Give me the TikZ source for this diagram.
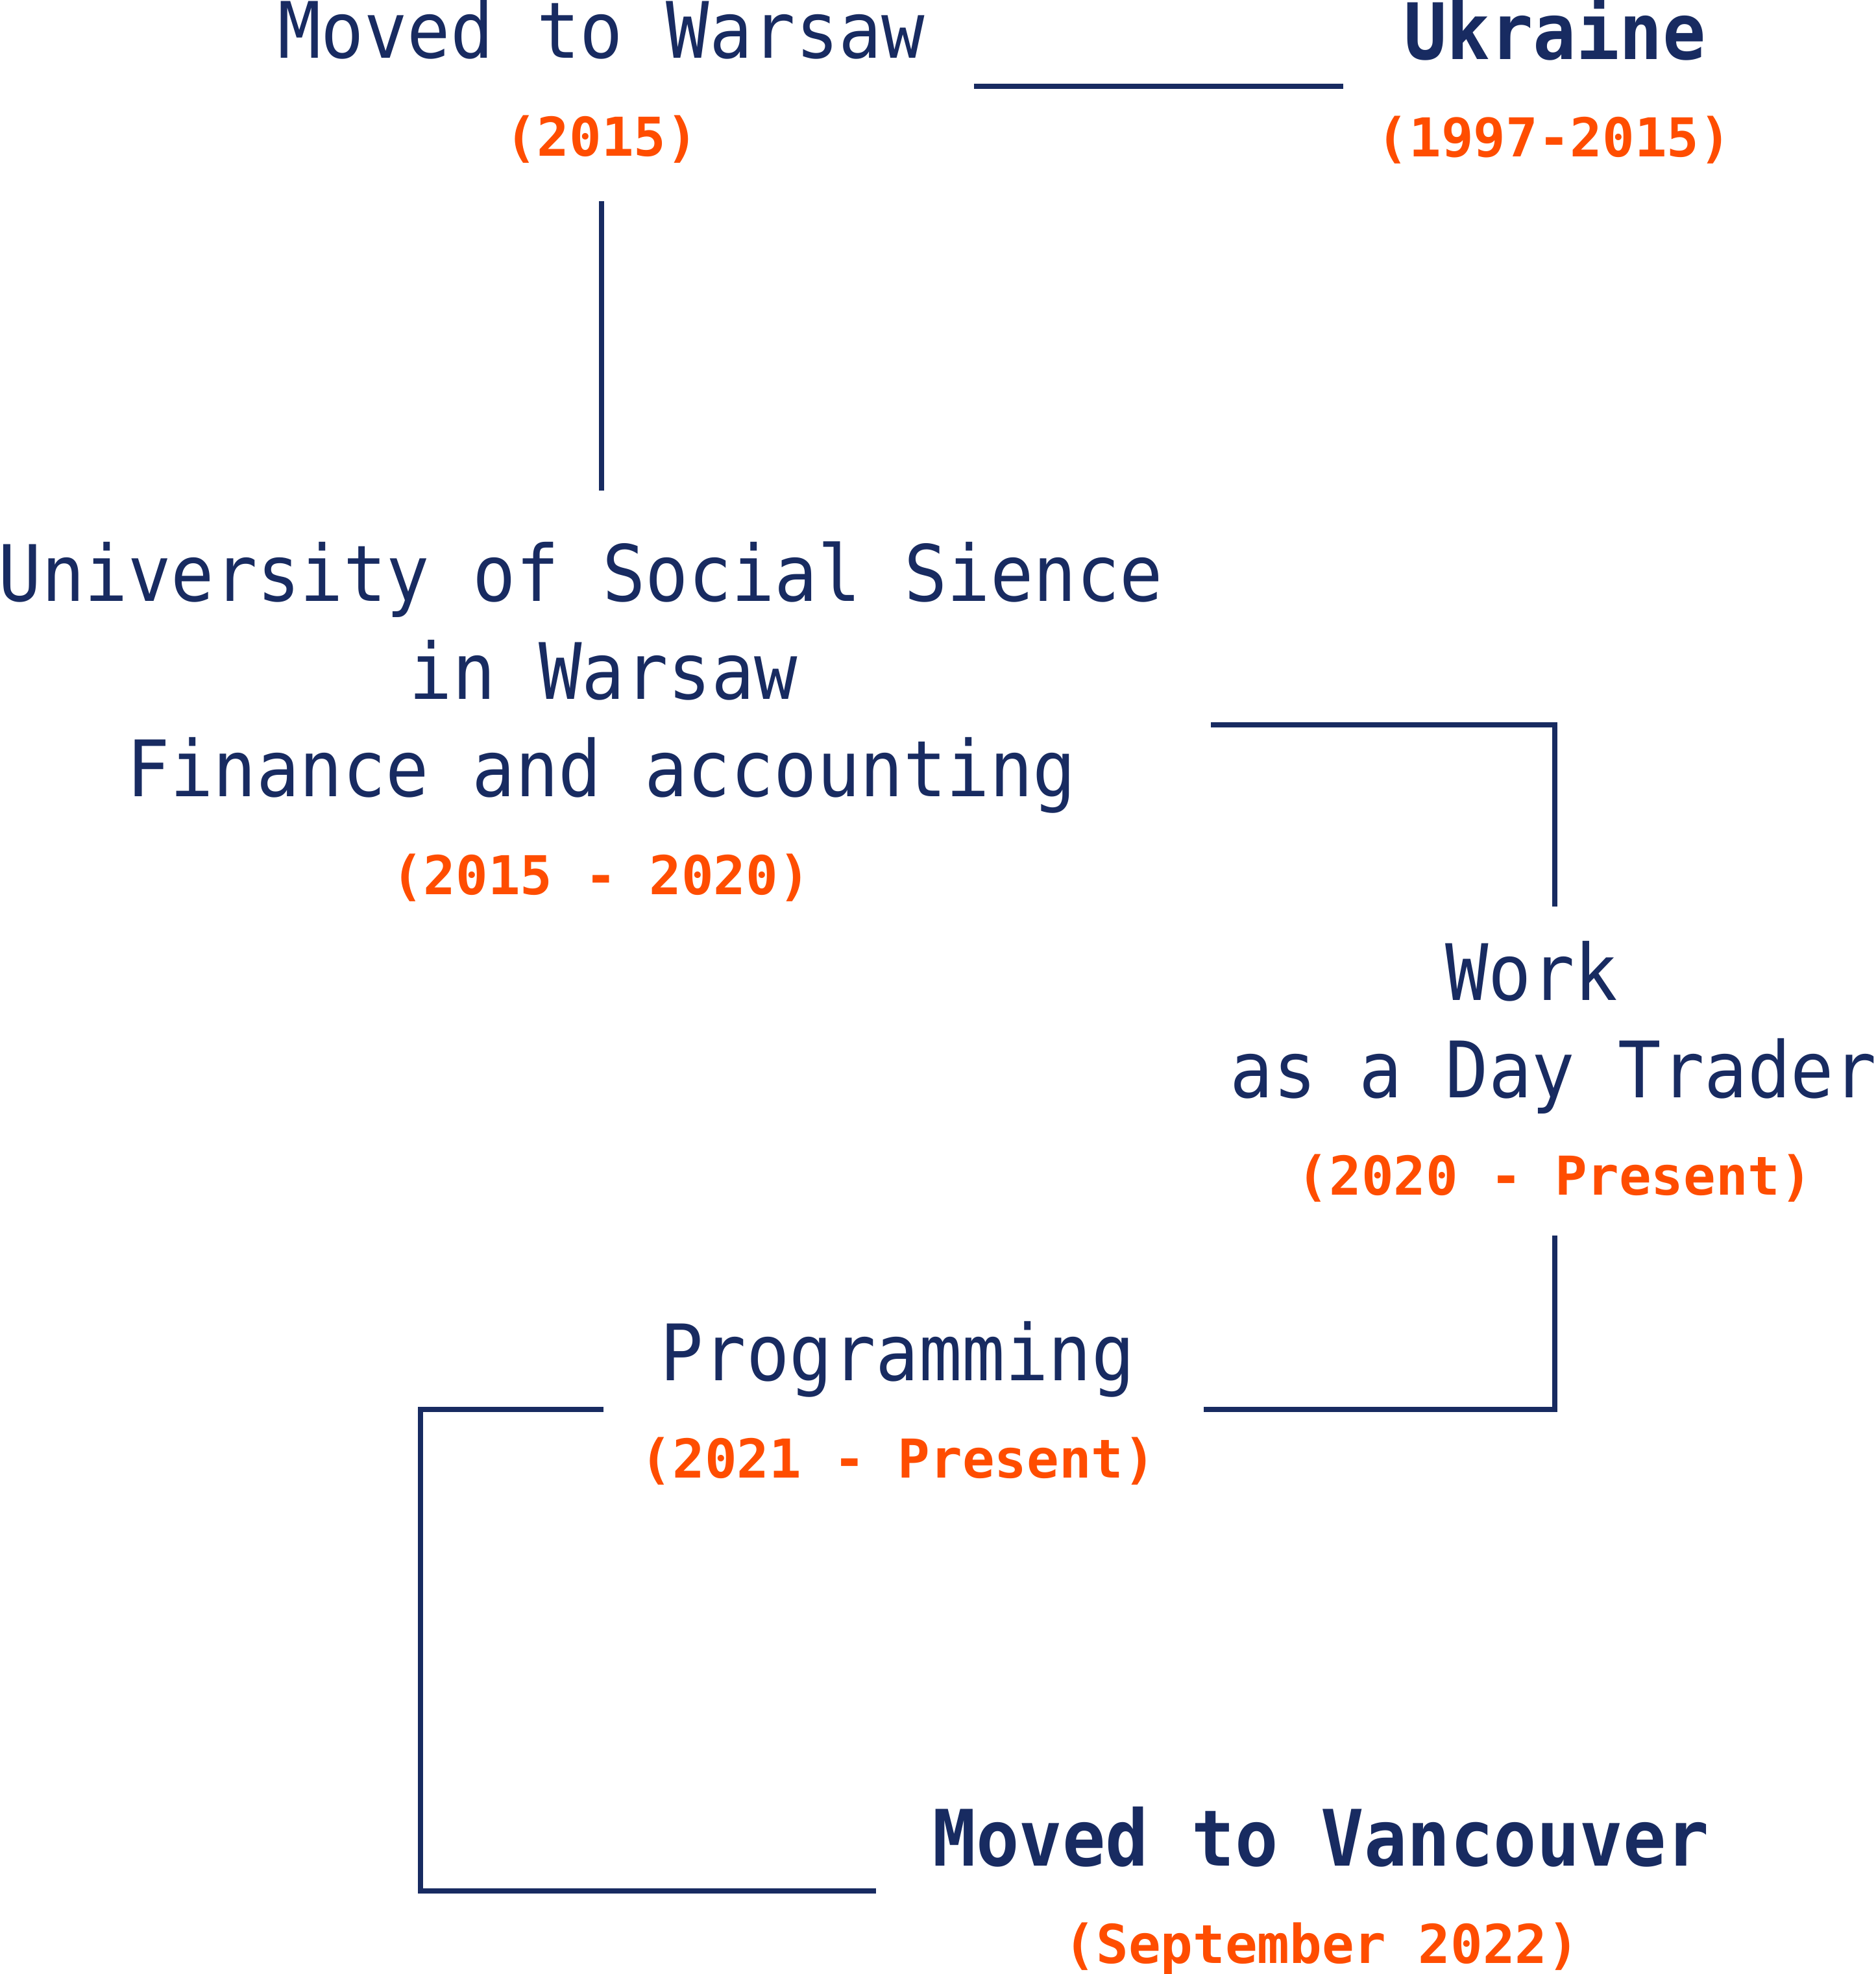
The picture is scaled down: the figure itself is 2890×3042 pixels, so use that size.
\documentclass[tikz,border=0pt]{standalone}
\usepackage{fontspec}
\newfontfamily\monoreg[FakeStretch=0.92]{DejaVu Sans Mono}
\newfontfamily\monodate{DejaVu Sans Mono}
\definecolor{navyc}{RGB}{24,43,97}
\definecolor{accentc}{RGB}{255,77,0}
\begin{document}
\begin{tikzpicture}[x=0.1pt,y=-0.1pt,
  txt/.style={font=\monoreg\fontsize{12}{14}\selectfont, text=navyc, inner sep=0pt, anchor=base},
  txtb/.style={font=\monoreg\bfseries\fontsize{12}{14}\selectfont, text=navyc, inner sep=0pt, anchor=base},
  yr/.style={font=\monodate\bfseries\fontsize{8.25}{10}\selectfont, text=accentc, inner sep=0pt, anchor=base},
  conn/.style={draw=navyc, line width=0.8pt, line cap=butt, line join=miter}]
\useasboundingbox (0,0) rectangle (2890,3042);
\fill[white] (0,0) rectangle (2890,3042);
% texts
\node[txt] (war1) at (927,90) {Moved to Warsaw};
\node[yr] (war2) at (927,241) {(2015)};
\node[txtb] (ukr1) at (2396,92) {Ukraine};
\node[yr] (ukr2) at (2395,242) {(1997-2015)};
\node[txt] (uni1) at (895,927) {University of Social Sience};
\node[txt] (uni2) at (930,1078) {in Warsaw};
\node[txt] (uni3) at (927,1227) {Finance and accounting};
\node[yr] (uni4) at (926,1378) {(2015 - 2020)};
\node[txt] (wrk1) at (2360,1541) {Work};
\node[txt] (wrk2) at (2394,1691) {as a Day Trader};
\node[yr] (wrk3) at (2396,1841) {(2020 - Present)};
\node[txt] (prg1) at (1383,2127) {Programming};
\node[yr] (prg2) at (1384,2277) {(2021 - Present)};
\node[txtb] (van1) at (2036,2875) {Moved to Vancouver};
\node[yr] (van2) at (2037,3025) {(September 2022)};
% connector end points
\coordinate (a1) at (1501,133);
\coordinate (a2) at (2070,133);
\coordinate (b1) at (927,310);
\coordinate (b2) at (927,756);
\coordinate (c1) at (1866,1117);
\coordinate (c2) at (2396,1117);
\coordinate (c3) at (2396,1397);
\coordinate (d1) at (2396,1904);
\coordinate (d2) at (2396,2172);
\coordinate (d3) at (1855,2172);
\coordinate (e1) at (930,2172);
\coordinate (e2) at (648,2172);
\coordinate (e3) at (648,2914);
\coordinate (e4) at (1350,2914);
% connectors
\draw[conn] (a1) -- (a2);
\draw[conn] (b1) -- (b2);
\draw[conn] (c1) -- (c2) -- (c3);
\draw[conn] (d1) -- (d2) -- (d3);
\draw[conn] (e1) -- (e2) -- (e3) -- (e4);
\end{tikzpicture}
\end{document}
